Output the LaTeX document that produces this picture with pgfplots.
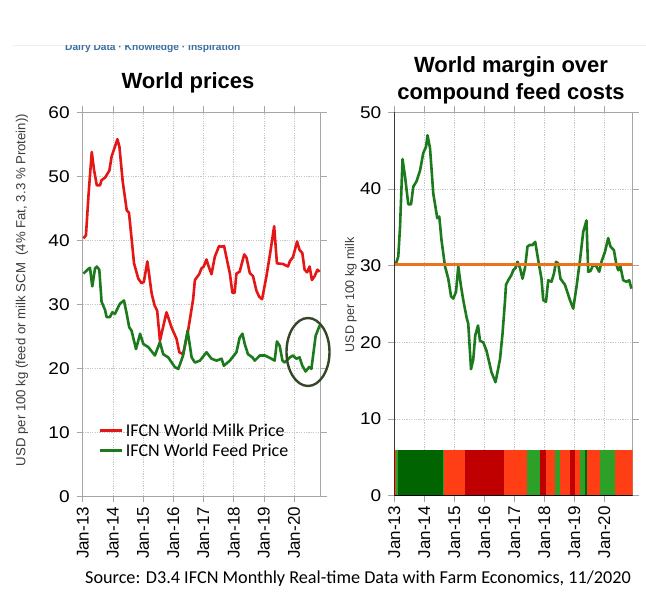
\documentclass[border=0pt]{standalone}
\usepackage{fontspec}
\setmainfont{Liberation Sans}
\newfontfamily\tickfont[FakeStretch=1.12]{Liberation Sans}
\newfontfamily\calibri{Carlito}
\usepackage{pgfplots}
\pgfplotsset{compat=1.18}
\definecolor{milkred}{RGB}{228,22,22}
\definecolor{feedgreen}{RGB}{28,122,28}
\definecolor{barorange}{RGB}{255,62,22}
\definecolor{bardkred}{RGB}{192,0,0}
\definecolor{bardkgreen}{RGB}{0,100,0}
\definecolor{barmidgreen}{RGB}{45,160,40}
\definecolor{refline}{RGB}{235,115,30}
\definecolor{circlec}{RGB}{55,70,40}
\definecolor{brandblue}{RGB}{60,110,160}
\definecolor{labgray}{RGB}{60,60,60}

\pgfplotsset{
  common/.style={
    scale only axis,
    xmin=0, ymin=0,
    xtick={0,12,24,36,48,60,72,84},
    xticklabels={Jan-13,Jan-14,Jan-15,Jan-16,Jan-17,Jan-18,Jan-19,Jan-20},
    x tick label style={rotate=90, anchor=east, inner sep=4.5pt, font=\fontsize{17}{17}\selectfont},
    y tick label style={font=\tickfont\fontsize{17}{17}\selectfont, xshift=-3.5pt},
    grid=major,
    grid style={gray!45, dash pattern=on 1.2pt off 1.2pt, line width=0.5pt},
    tick align=outside,
    major tick length=6pt,
    tick style={gray!70, line width=0.6pt},
    axis line style={gray!70, line width=0.8pt},
    /pgf/number format/assume math mode=true,
  }
}

\begin{document}
\begin{tikzpicture}
\path[use as bounding box, fill=white] (0pt,0pt) rectangle (646pt,608pt);

% ---------- left axis: World prices ----------
\begin{axis}[common,
  at={(82.7pt,111.7pt)}, anchor=south west,
  width=238pt, height=384pt,
  xmax=94.6, ymax=60,
  ytick={0,10,20,30,40,50,60},
  legend style={draw=none, fill=none, at={(0.063,0.197)}, anchor=north west,
    font=\calibri\fontsize{18}{18}\selectfont, row sep=2pt, inner sep=1pt},
  legend cell align=left,
  legend image code/.code={\draw[#1, line width=3pt] (0pt,0pt) -- (22pt,0pt);},
]
\addplot[milkred, line width=2.6pt, line join=round] coordinates {
(0.3,40.3)(1.3,40.8)(2.3,47)(3.6,53.8)(4.5,51)(5.6,48.6)(6.9,48.6)(7.5,49.4)(8.9,49.8)(10.6,50.9)(11.5,53.1)(13.8,55.8)(14.6,54.6)(15.9,49.2)(17.5,44.7)(18.4,44.3)(19.5,40)(20.4,36.4)(22.1,34.0)(23.4,33.3)(24.3,33.5)(25.7,36.7)(27.4,31.7)(28.6,29.8)(29.6,29.0)(30.7,24.3)(33.3,28.75)(35.3,26.4)(37.3,24.6)(38.4,22.5)(39.9,22.2)(41.9,25.9)(43.9,30.8)(44.6,33.8)(46.3,34.7)(47.2,35.6)(48.1,35.9)(49.2,37.0)(49.9,36.1)(51.2,34.7)(52.5,37.4)(54.2,39.1)(55.2,39.0)(56.2,39.1)(57.1,37.4)(58.5,34.8)(59.5,31.8)(60.4,31.8)(61.1,34.8)(62.4,35.1)(64.2,37.8)(65.1,37.3)(66.4,34.9)(67.7,34.4)(69.0,32.2)(70.1,31.2)(71.3,30.8)(73.0,34.3)(74.6,38.2)(76.1,42.2)(77.2,36.4)(79.6,36.3)(81.6,35.9)(82.3,36.7)(83.6,37.4)(85.2,39.8)(86.2,38.5)(87.3,38.0)(88.2,35.4)(89.2,35.0)(90.2,35.9)(91.1,33.8)(92.2,34.4)(93.3,35.4)(94.2,35.1)
};
\addlegendentry{IFCN World Milk Price}
\addplot[feedgreen, line width=2.6pt, line join=round] coordinates {
(0.3,34.8)(2.2,35.5)(2.9,35.7)(3.8,32.8)(4.9,35.6)(5.6,35.9)(6.6,35.4)(7.5,30.4)(8.9,29.1)(9.5,28.0)(10.8,28.0)(11.8,28.75)(12.8,28.5)(14.8,30.1)(16.4,30.6)(17.5,28.5)(18.5,26.4)(19.4,25.9)(21.2,23.0)(22.8,25.4)(24.1,23.8)(26.1,23.3)(28.7,22.0)(30.7,24.1)(32.0,22.2)(34.0,21.7)(36.6,20.2)(38.0,19.9)(39.9,22.0)(41.7,25.9)(43.3,21.7)(44.6,20.9)(46.6,21.2)(49.2,22.5)(51.2,21.5)(53.2,21.2)(55.2,21.5)(56.1,20.4)(58.5,21.2)(61.1,22.5)(62.4,24.8)(63.5,25.4)(64.4,23.8)(65.7,22.2)(67.5,21.7)(68.4,21.2)(70.4,22.0)(72.4,22.0)(75.0,21.5)(76.3,21.2)(77.2,24.2)(78.3,23.5)(79.4,21.2)(80.3,20.9)(82.3,21.7)(83.6,22.0)(84.9,21.5)(86.2,21.7)(87.3,20.4)(88.6,19.5)(90.0,20.2)(90.9,19.9)(92.6,25.1)(94.2,26.7)
};
\addlegendentry{IFCN World Feed Price}
\end{axis}

% ---------- right axis: World margin ----------
\begin{axis}[common,
  at={(394.3pt,112.3pt)}, anchor=south west,
  width=238.4pt, height=383.4pt,
  xmax=95.4, ymax=50,
  ytick={0,10,20,30,40,50},
]
\addplot[feedgreen, line width=2.6pt, line join=round] coordinates {
(0.5,30.1)(1.6,31.2)(2.3,35.1)(3.3,43.9)(4.3,41.6)(5.6,38.0)(6.7,38.0)(7.6,40.3)(8.9,41.0)(10.3,42.4)(11.6,44.7)(12.7,45.5)(13.3,47.0)(14.3,45.3)(15.6,39.4)(17.2,36.2)(18.0,36.4)(18.9,33.3)(20.3,29.9)(21.6,28.3)(22.7,26.0)(23.6,25.7)(24.7,26.6)(25.6,29.9)(26.7,27.3)(27.6,25.5)(28.9,23.3)(29.6,22.4)(30.7,16.5)(31.6,17.8)(32.4,20.9)(33.5,22.2)(34.3,20.2)(35.6,20.0)(36.9,18.9)(38.9,16.1)(40.5,14.8)(42.3,17.8)(43.3,21.1)(44.3,25.4)(44.7,27.5)(45.6,28.1)(46.9,28.8)(47.6,29.4)(48.5,29.7)(49.3,30.5)(50.3,29.7)(51.3,28.3)(52.3,29.7)(53.3,32.5)(54.3,32.7)(55.3,32.7)(56.4,33.1)(57.6,30.7)(58.9,28.3)(59.6,25.5)(60.7,25.3)(61.6,28.1)(62.9,27.9)(63.9,29.0)(64.7,30.5)(65.6,30.3)(66.5,28.3)(68.3,27.5)(70.3,25.5)(71.6,24.4)(72.9,27.2)(74.3,30.7)(75.6,34.4)(76.9,35.9)(77.6,29.2)(78.5,29.3)(79.6,30.1)(80.9,29.9)(82.0,29.2)(82.9,30.5)(84.3,31.8)(85.6,33.6)(86.5,32.5)(87.9,32.0)(88.9,30.1)(89.6,29.4)(90.5,29.9)(91.6,28.1)(92.9,27.9)(94.0,28.1)(94.9,27.0)
};
\addplot[refline, line width=2.8pt] coordinates {(0,30.2)(95.4,30.2)};
% colour bar
\addplot[draw=none, fill=barorange] coordinates {(0,5.9)(0.8,5.9)} \closedcycle;
\addplot[draw=none, fill=barmidgreen] coordinates {(0.8,5.9)(1.4,5.9)} \closedcycle;
\addplot[draw=none, fill=bardkgreen] coordinates {(1.4,5.9)(19.3,5.9)} \closedcycle;
\addplot[draw=none, fill=barmidgreen] coordinates {(19.3,5.9)(19.8,5.9)} \closedcycle;
\addplot[draw=none, fill=barorange] coordinates {(19.8,5.9)(28.3,5.9)} \closedcycle;
\addplot[draw=none, fill=bardkred] coordinates {(28.3,5.9)(44,5.9)} \closedcycle;
\addplot[draw=none, fill=barorange] coordinates {(44,5.9)(53,5.9)} \closedcycle;
\addplot[draw=none, fill=barmidgreen] coordinates {(53,5.9)(58.5,5.9)} \closedcycle;
\addplot[draw=none, fill=bardkred] coordinates {(58.5,5.9)(60.8,5.9)} \closedcycle;
\addplot[draw=none, fill=barorange] coordinates {(60.8,5.9)(64.3,5.9)} \closedcycle;
\addplot[draw=none, fill=barmidgreen] coordinates {(64.3,5.9)(66.3,5.9)} \closedcycle;
\addplot[draw=none, fill=barorange] coordinates {(66.3,5.9)(70.2,5.9)} \closedcycle;
\addplot[draw=none, fill=bardkred] coordinates {(70.2,5.9)(72.3,5.9)} \closedcycle;
\addplot[draw=none, fill=barorange] coordinates {(72.3,5.9)(74.3,5.9)} \closedcycle;
\addplot[draw=none, fill=barmidgreen] coordinates {(74.3,5.9)(76.3,5.9)} \closedcycle;
\addplot[draw=none, fill=bardkgreen] coordinates {(76.3,5.9)(77.3,5.9)} \closedcycle;
\addplot[draw=none, fill=barorange] coordinates {(77.3,5.9)(82.3,5.9)} \closedcycle;
\addplot[draw=none, fill=barmidgreen] coordinates {(82.3,5.9)(88.3,5.9)} \closedcycle;
\addplot[draw=none, fill=barorange] coordinates {(88.3,5.9)(95.4,5.9)} \closedcycle;
\draw[black, line width=0.9pt] (rel axis cs:0,1) -- (rel axis cs:0,0) -- (rel axis cs:1,0);
\end{axis}

% ---------- annotations ----------
\draw[circlec, line width=2.4pt] (308pt,256pt) ellipse (21.5pt and 34pt);

\node[anchor=base, font=\bfseries\fontsize{22}{22}\selectfont] at (188pt,519pt) {World prices};
\node[anchor=base, font=\bfseries\fontsize{22}{22}\selectfont] at (511pt,535pt) {World margin over};
\node[anchor=base, font=\bfseries\fontsize{22}{22}\selectfont] at (511pt,508pt) {compound feed costs};

\node[rotate=90, text=labgray, font=\fontsize{13.2}{13.2}\selectfont] at (22pt,318pt)
  {USD per 100 kg (feed or milk SCM\ \ (4\% Fat, 3.3 \% Protein))};
\node[rotate=90, text=labgray, font=\fontsize{12.5}{12.5}\selectfont] at (351pt,313pt)
  {USD per 100 kg milk};

\node[anchor=base, font=\calibri\fontsize{18.2}{18.2}\selectfont] at (358pt,24pt)
  {Source: D3.4 IFCN Monthly Real-time Data with Farm Economics, 11/2020};

\draw[gray!12, line width=0.8pt] (13pt,562.5pt) -- (646pt,562.5pt);
\begin{scope}
\clip (0pt,548pt) rectangle (646pt,562.5pt);
\node[anchor=base west, inner sep=0pt, text=brandblue, font=\bfseries\fontsize{10.2}{10.2}\selectfont] at (65pt,557pt)
  {Dairy Data · Knowledge · Inspiration};
\end{scope}
\end{tikzpicture}
\end{document}
